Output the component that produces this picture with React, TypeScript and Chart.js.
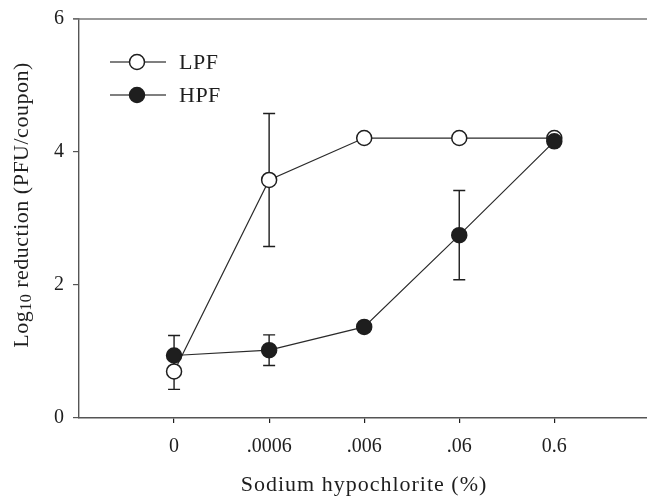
import React, { useEffect, useRef } from "react";
import { Chart, registerables } from "chart.js";

Chart.register(...registerables);

const categories = ["0", ".0006", ".006", ".06", "0.6"];
const lpfValues = [0.7, 3.58, 4.21, 4.21, 4.21];
const lpfErrors = [0.27, 1.0, 0, 0, 0];
const hpfValues = [0.94, 1.02, 1.37, 2.75, 4.16];
const hpfErrors = [0.3, 0.23, 0.07, 0.67, 0];
const yTicks = [0, 2, 4, 6];

const FONT = "'Liberation Serif', 'Times New Roman', serif";
const INK = "#1e1e1e";
const AXIS = "#555555";

const spacingPlugin = {
  id: "spacing",
  beforeDraw(chart: any) {
    (chart.ctx as any).letterSpacing = "0px";
  },
};

const errorBarPlugin = {
  id: "errorBars",
  beforeDatasetsDraw(chart: any) {
    const { ctx, scales } = chart;
    const x = scales.x;
    const y = scales.y;
    ctx.save();
    ctx.strokeStyle = INK;
    ctx.lineWidth = 1.4;
    const sets = [
      { v: lpfValues, e: lpfErrors },
      { v: hpfValues, e: hpfErrors },
    ];
    sets.forEach((s) => {
      s.v.forEach((val, i) => {
        const err = s.e[i];
        if (!err) return;
        const px = x.getPixelForValue(i);
        const top = y.getPixelForValue(val + err);
        const bot = y.getPixelForValue(val - err);
        ctx.beginPath();
        ctx.moveTo(px, top);
        ctx.lineTo(px, bot);
        ctx.moveTo(px - 6, top);
        ctx.lineTo(px + 6, top);
        ctx.moveTo(px - 6, bot);
        ctx.lineTo(px + 6, bot);
        ctx.stroke();
      });
    });
    ctx.restore();
  },
};

const decorPlugin = {
  id: "decor",
  afterDraw(chart: any) {
    const { ctx, chartArea } = chart;
    ctx.save();
    // top frame line
    ctx.strokeStyle = "#777";
    ctx.lineWidth = 1.5;
    ctx.beginPath();
    ctx.moveTo(chartArea.left - 6, chartArea.top);
    ctx.lineTo(chart.width, chartArea.top);
    ctx.stroke();

    // legend
    const items = [
      { label: "LPF", fill: "#ffffff", y: 62 },
      { label: "HPF", fill: INK, y: 95 },
    ];
    items.forEach((it) => {
      ctx.strokeStyle = "#555";
      ctx.lineWidth = 1.4;
      ctx.beginPath();
      ctx.moveTo(110, it.y);
      ctx.lineTo(166, it.y);
      ctx.stroke();
      ctx.beginPath();
      ctx.arc(137, it.y, 7.5, 0, Math.PI * 2);
      ctx.fillStyle = it.fill;
      ctx.fill();
      ctx.strokeStyle = INK;
      ctx.lineWidth = 1.5;
      ctx.stroke();
      ctx.fillStyle = INK;
      ctx.font = `22px ${FONT}`;
      (ctx as any).letterSpacing = "0.5px";
      ctx.textAlign = "left";
      ctx.textBaseline = "middle";
      ctx.fillText(it.label, 179, it.y + 1);
    });

    // x title
    ctx.fillStyle = INK;
    ctx.font = `22px ${FONT}`;
    (ctx as any).letterSpacing = "1px";
    ctx.textAlign = "center";
    ctx.textBaseline = "alphabetic";
    ctx.fillText("Sodium hypochlorite (%)", (chartArea.left + chartArea.right) / 2 + 1, 491);

    // y title with subscript
    (ctx as any).letterSpacing = "0.5px";
    ctx.translate(22, 205);
    ctx.rotate(-Math.PI / 2);
    const parts = [
      { t: "Log", size: 22, dy: 0 },
      { t: "10", size: 16, dy: 5 },
      { t: " reduction (PFU/coupon)", size: 22, dy: 0 },
    ];
    let total = 0;
    parts.forEach((p) => {
      ctx.font = `${p.size}px ${FONT}`;
      total += ctx.measureText(p.t).width;
    });
    let cx = -total / 2;
    ctx.textAlign = "left";
    ctx.textBaseline = "middle";
    parts.forEach((p) => {
      ctx.font = `${p.size}px ${FONT}`;
      ctx.fillText(p.t, cx, p.dy);
      cx += ctx.measureText(p.t).width;
    });
    ctx.restore();
  },
};

export default function App() {
  const ref = useRef<HTMLCanvasElement | null>(null);

  useEffect(() => {
    if (!ref.current) return;
    const chart = new Chart(ref.current, {
      type: "line",
      data: {
        datasets: [
          {
            label: "HPF",
            data: hpfValues.map((v, i) => ({ x: i, y: v })),
            borderColor: "#2a2a2a",
            borderWidth: 1.2,
            pointRadius: 7.5,
            pointBackgroundColor: INK,
            pointBorderColor: INK,
            pointBorderWidth: 1.5,
            order: 0,
          },
          {
            label: "LPF",
            data: lpfValues.map((v, i) => ({ x: i, y: v })),
            borderColor: "#2a2a2a",
            borderWidth: 1.2,
            pointRadius: 7.5,
            pointBackgroundColor: "#ffffff",
            pointBorderColor: INK,
            pointBorderWidth: 1.5,
            order: 1,
          },
        ],
      },
      options: {
        responsive: false,
        animation: false,
        clip: false,
        layout: { autoPadding: false, padding: { top: 19, right: 0, left: 0, bottom: 0 } },
        plugins: {
          legend: { display: false },
          tooltip: { enabled: false },
        },
        scales: {
          x: {
            type: "linear",
            min: -1,
            max: 4.975,
            afterBuildTicks: (scale: any) => {
              scale.ticks = categories.map((_, i) => ({ value: i }));
            },
            afterFit: (scale: any) => {
              scale.height = 78;
              scale.paddingLeft = 0;
              scale.paddingRight = 0;
            },
            ticks: {
              callback: (v: any) => categories[v as number] ?? "",
              color: INK,
              font: { family: FONT, size: 20 },
              padding: 12,
              maxRotation: 0,
              autoSkip: false,
            },
            grid: {
              drawOnChartArea: false,
              drawTicks: true,
              tickLength: 5,
              color: INK,
              lineWidth: 1.2,
            },
            border: { display: true, color: AXIS, width: 1.4 },
          },
          y: {
            type: "linear",
            min: 0,
            max: 6,
            afterBuildTicks: (scale: any) => {
              scale.ticks = yTicks.map((v) => ({ value: v }));
            },
            afterFit: (scale: any) => {
              scale.width = 79;
              scale.paddingTop = 0;
              scale.paddingBottom = 0;
            },
            ticks: {
              color: INK,
              font: { family: FONT, size: 20 },
              padding: 9,
            },
            grid: {
              drawOnChartArea: false,
              drawTicks: true,
              tickLength: 6,
              color: AXIS,
              lineWidth: 1.2,
            },
            border: { display: true, color: AXIS, width: 1.4 },
          },
        },
      },
      plugins: [spacingPlugin, errorBarPlugin, decorPlugin],
    } as any);
    return () => chart.destroy();
  }, []);

  return (
    <div style={{ position: "fixed", left: 0, top: 0, width: 647, height: 496, background: "#fff" }}>
      <canvas ref={ref} width={647} height={496} style={{ display: "block" }} />
    </div>
  );
}
